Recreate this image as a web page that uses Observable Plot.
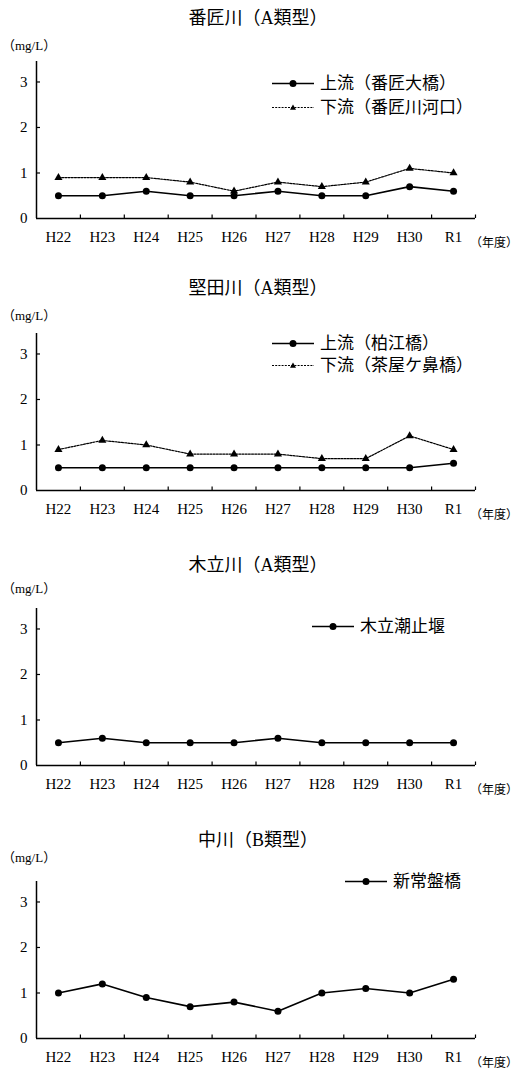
<!DOCTYPE html>
<html>
<head>
<meta charset="utf-8">
<script src="https://cdn.jsdelivr.net/npm/d3@7"></script>
<script src="https://cdn.jsdelivr.net/npm/@observablehq/plot@0.6"></script>
<style>
  html, body { margin: 0; padding: 0; background: #fff; }
  #root { position: relative; width: 519px; height: 1070px; overflow: hidden;
    font-family: "Liberation Serif", "Noto Sans CJK JP", serif; color: #000; }
  .abs { position: absolute; white-space: nowrap; line-height: 1; }
  .title { font-size: 18px; transform: translate(-50%, -50%); }
  .unit { font-size: 13px; transform: translateY(-50%); }
  .nendo { font-size: 12px; transform: translateY(-50%); }
  .leg { display: flex; align-items: center; transform: translateY(-50%); font-size: 17px; }
  .leg svg { display: block; margin-right: 6px; }
  .panel svg { display: block; }
</style>
</head>
<body>
<div id="root"></div>
<script>
// ---- data ----
const years = ["H22", "H23", "H24", "H25", "H26", "H27", "H28", "H29", "H30", "R1"];
const yTicks = [0, 1, 2, 3];

const titles = ["番匠川（A類型）", "堅田川（A類型）", "木立川（A類型）", "中川（B類型）"];

const banshoUpperName = "上流（番匠大橋）";
const banshoUpper = [0.5, 0.5, 0.6, 0.5, 0.5, 0.6, 0.5, 0.5, 0.7, 0.6];
const banshoLowerName = "下流（番匠川河口）";
const banshoLower = [0.9, 0.9, 0.9, 0.8, 0.6, 0.8, 0.7, 0.8, 1.1, 1.0];

const katataUpperName = "上流（柏江橋）";
const katataUpper = [0.5, 0.5, 0.5, 0.5, 0.5, 0.5, 0.5, 0.5, 0.5, 0.6];
const katataLowerName = "下流（茶屋ケ鼻橋）";
const katataLower = [0.9, 1.1, 1.0, 0.8, 0.8, 0.8, 0.7, 0.7, 1.2, 0.9];

const kitachiName = "木立潮止堰";
const kitachi = [0.5, 0.6, 0.5, 0.5, 0.5, 0.6, 0.5, 0.5, 0.5, 0.5];

const nakagawaName = "新常盤橋";
const nakagawa = [1.0, 1.2, 0.9, 0.7, 0.8, 0.6, 1.0, 1.1, 1.0, 1.3];

// ---- layout (pixel positions of each panel) ----
const layout = [
  { titleY: 18, unitY: 45, zeroY: 218, legX: 272, legY: [83, 107] },
  { titleY: 288, unitY: 315, zeroY: 490, legX: 272, legY: [343, 365] },
  { titleY: 565, unitY: 588, zeroY: 765, legX: 312, legY: [626] },
  { titleY: 840, unitY: 857, zeroY: 1038, legX: 345, legY: [881] }
];

const series = [
  [{ name: banshoUpperName, values: banshoUpper, type: "solid" },
   { name: banshoLowerName, values: banshoLower, type: "dashed" }],
  [{ name: katataUpperName, values: katataUpper, type: "solid" },
   { name: katataLowerName, values: katataLower, type: "dashed" }],
  [{ name: kitachiName, values: kitachi, type: "solid" }],
  [{ name: nakagawaName, values: nakagawa, type: "solid" }]
];

const root = document.getElementById("root");
const W = 519, MT = 10, MB = 40, FH = 157, H = MT + FH + MB;
const font = '"Liberation Serif", "Noto Sans CJK JP", serif';

function div(cls, text, x, y) {
  const d = document.createElement("div");
  d.className = "abs " + cls;
  d.textContent = text;
  d.style.left = x + "px";
  d.style.top = y + "px";
  root.appendChild(d);
  return d;
}

function legendSymbol(type) {
  const ns = "http://www.w3.org/2000/svg";
  const svg = document.createElementNS(ns, "svg");
  svg.setAttribute("width", 42);
  svg.setAttribute("height", 12);
  const line = document.createElementNS(ns, "line");
  line.setAttribute("x1", 0); line.setAttribute("x2", 42);
  line.setAttribute("y1", 6); line.setAttribute("y2", 6);
  line.setAttribute("stroke", "#000");
  if (type === "dashed") {
    line.setAttribute("stroke-width", 1.2);
    line.setAttribute("stroke-dasharray", "2,1.2");
  } else {
    line.setAttribute("stroke-width", 1.6);
  }
  svg.appendChild(line);
  if (type === "dashed") {
    const p = document.createElementNS(ns, "path");
    p.setAttribute("d", "M21,3 L24,8.2 L18,8.2 Z");
    p.setAttribute("fill", "#000");
    svg.appendChild(p);
  } else {
    const c = document.createElementNS(ns, "circle");
    c.setAttribute("cx", 21); c.setAttribute("cy", 6); c.setAttribute("r", 3.5);
    c.setAttribute("fill", "#000");
    svg.appendChild(c);
  }
  return svg;
}

layout.forEach((L, p) => {
  div("title", titles[p], 258, L.titleY);
  div("unit", "（mg/L）", 2, L.unitY);
  div("nendo", "（年度）", 470, L.zeroY + 25);

  const marks = [
    Plot.ruleX([-0.5], { stroke: "#000", strokeWidth: 1.5 }),
    Plot.ruleY([0], { stroke: "#000", strokeWidth: 1.5 }),
    Plot.tickX(d3.range(10).map(i => i + 0.5), { x: d => d, insetTop: FH - 3.5, stroke: "#000", strokeWidth: 1.2 }),
    Plot.tickY(yTicks.filter(v => v > 0), { y: d => d, insetRight: W - 36 - 44 - 4, stroke: "#000", strokeWidth: 1.2 }),
    Plot.axisX(d3.range(10), { tickSize: 0, tickPadding: 13, tickFormat: i => years[i], fontSize: 15, label: null }),
    Plot.axisY(yTicks, { tickSize: 0, tickPadding: 9, fontSize: 15, label: null })
  ];

  series[p].forEach(s => {
    const data = s.values.map((v, i) => ({ i, v }));
    if (s.type === "dashed") {
      marks.push(Plot.line(data, { x: "i", y: "v", stroke: "#000", strokeWidth: 1.2, strokeDasharray: "2,1.2" }));
      marks.push(Plot.dot(data, { x: "i", y: "v", symbol: "triangle", r: 3, fill: "#000", stroke: "none" }));
    } else {
      marks.push(Plot.line(data, { x: "i", y: "v", stroke: "#000", strokeWidth: 1.6 }));
      marks.push(Plot.dot(data, { x: "i", y: "v", r: 3.5, fill: "#000", stroke: "none" }));
    }
  });

  const chart = Plot.plot({
    width: W, height: H,
    marginLeft: 36, marginRight: 44, marginTop: MT, marginBottom: MB,
    x: { domain: [-0.5, 9.5], axis: null, label: null },
    y: { domain: [0, 3.45], axis: null, label: null },
    style: { fontFamily: font, color: "#000", background: "transparent", overflow: "visible" },
    marks
  });
  const holder = document.createElement("div");
  holder.className = "panel abs";
  holder.style.left = "0px";
  holder.style.top = (L.zeroY - FH - MT) + "px";
  holder.appendChild(chart);
  root.insertBefore(holder, root.firstChild);

  series[p].forEach((s, k) => {
    const d = document.createElement("div");
    d.className = "abs leg";
    d.style.left = L.legX + "px";
    d.style.top = L.legY[k] + "px";
    d.appendChild(legendSymbol(s.type));
    const t = document.createElement("span");
    t.textContent = s.name;
    d.appendChild(t);
    root.appendChild(d);
  });
});
</script>
</body>
</html>
